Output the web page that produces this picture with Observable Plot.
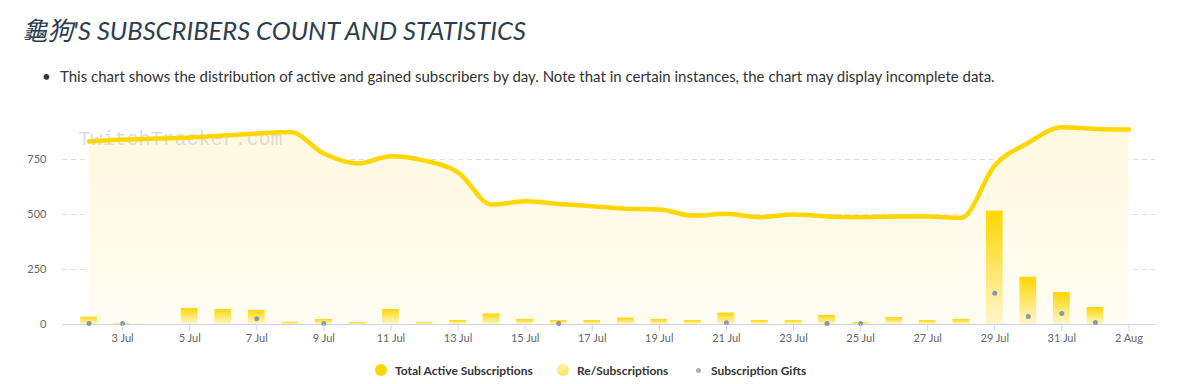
<!DOCTYPE html>
<html>
<head>
<meta charset="utf-8">
<script src="https://cdn.jsdelivr.net/npm/d3@7"></script>
<script src="https://cdn.jsdelivr.net/npm/@observablehq/plot@0.6"></script>
<style>
  body { margin: 0; background: #fff; font-family: Lato, "Noto Sans", sans-serif; width: 1183px; height: 384px; position: relative; overflow: hidden; }
  #title { position: absolute; left: 22px; top: 10px; font-size: 25.5px; font-style: italic; color: #2c3e50; font-family: Lato, "Noto Sans CJK TC", sans-serif; white-space: nowrap; }
  #note { position: absolute; left: 42px; top: 67px; font-size: 15px; color: #333; white-space: nowrap; }
  #note span.b { display: inline-block; width: 18px; }
  #chart { position: absolute; left: 0; top: 100px; }
  #legend { position: absolute; top: 362px; left: 0; width: 1183px; font-size: 12px; font-weight: bold; color: #333; }
  .li { position: absolute; white-space: nowrap; display: flex; align-items: center; }
  .sw { display: inline-block; border-radius: 50%; margin-right: 8px; }
</style>
</head>
<body>
<div id="title">龜狗'S SUBSCRIBERS COUNT AND STATISTICS</div>
<div id="note"><span class="b">•</span>This chart shows the distribution of active and gained subscribers by day. Note that in certain instances, the chart may display incomplete data.</div>
<div id="chart"></div>
<div id="legend"></div>
<script>
// Data
const startDay = [2023, 6, 2]; // 2 Jul
const totalActive = [832, 841, 845, 850, 859, 868, 875, 777, 732, 765, 745, 692, 545, 560, 548, 538, 526, 523, 495, 503, 488, 500, 491, 488, 491, 491, 485, 723, 826, 897, 889, 886];
const reSubs = [33, 2, 0, 73, 68, 64, 10, 23, 9, 68, 8, 18, 48, 23, 18, 18, 29, 23, 18, 52, 18, 18, 41, 9, 32, 18, 23, 515, 215, 145, 77];
const gifts = [5, 5, null, null, null, 26, null, 5, null, null, null, null, null, null, 5, null, null, null, null, 8, null, null, 5, 5, null, null, null, 142, 36, 50, 9];
const yTicks = [0, 250, 500, 750];
const legendLabels = ["Total Active Subscriptions", "Re/Subscriptions", "Subscription Gifts"];
const watermark = "TwitchTracker.com";

const day = i => new Date(Date.UTC(startDay[0], startDay[1], startDay[2] + i));
const lineData = totalActive.map((v, i) => ({date: day(i), value: v}));
const barData = reSubs.map((v, i) => ({date: day(i), value: v}));
const giftData = gifts.map((v, i) => ({date: day(i), value: v})).filter(d => d.value != null);

const xMin = d3.utcHour.offset(day(0), -19);
const xMax = d3.utcHour.offset(day(totalActive.length - 1), 19);
const xTicks = d3.utcDay.range(day(1), d3.utcDay.offset(day(totalActive.length - 1), 1), 1).filter((d, i) => i % 2 === 0);

const gold = "#FFD600";

const plot = Plot.plot({
  width: 1183,
  height: 250,
  marginLeft: 62,
  marginRight: 28,
  marginTop: 4,
  marginBottom: 26,
  style: {fontFamily: "Lato, sans-serif", fontSize: "11px", color: "#666", background: "transparent"},
  x: {type: "utc", domain: [xMin, xMax], label: null},
  y: {domain: [0, 1000], label: null},
  marks: [
    Plot.gridY(yTicks.filter(t => t > 0), {stroke: "#e0e0e0", strokeOpacity: 1, strokeDasharray: "5,4"}),
    Plot.areaY(lineData, {x: "date", y: "value", fill: "url(#areaGrad)", curve: "monotone-x"}),
    Plot.text([watermark], {frameAnchor: "top-left", dx: 16, dy: 34, fontFamily: "Liberation Mono, DejaVu Sans Mono, monospace", fontSize: 20, fill: "#d6d6d6", fillOpacity: 0.85, textAnchor: "start", lineAnchor: "middle"}),
    Plot.rectY(barData, {x1: d => d3.utcHour.offset(d.date, -6), x2: d => d3.utcHour.offset(d.date, 6), y: "value", fill: "url(#barGrad)"}),
    Plot.ruleY([0], {stroke: "#ccd6eb"}),
    Plot.lineY(lineData, {x: "date", y: "value", stroke: gold, strokeWidth: 4.5, curve: "monotone-x"}),
    Plot.dot(giftData, {x: "date", y: "value", r: 2.5, fill: "#869aab", stroke: "none"}),
    Plot.axisY({ticks: yTicks, tickSize: 0, tickPadding: 16, fill: "#666", fontSize: 11}),
    Plot.axisX({ticks: xTicks, tickFormat: d3.utcFormat("%-d %b"), tickSize: 7, tickPadding: 3, stroke: "#ccd6eb", fill: "#666", fontSize: 11})
  ]
});

// gradients
const svgSel = d3.select(plot);
const defs = svgSel.insert("defs", ":first-child");
const bg = defs.append("linearGradient").attr("id", "barGrad").attr("x1", 0).attr("y1", 0).attr("x2", 0).attr("y2", 1);
bg.append("stop").attr("offset", "0%").attr("stop-color", "#FFD600");
bg.append("stop").attr("offset", "100%").attr("stop-color", "#FFF6CE");
const ag = defs.append("linearGradient").attr("id", "areaGrad").attr("x1", 0).attr("y1", 0).attr("x2", 0).attr("y2", 1);
ag.append("stop").attr("offset", "0%").attr("stop-color", "#FFF9DF");
ag.append("stop").attr("offset", "100%").attr("stop-color", "#FFFDF4");

document.getElementById("chart").appendChild(plot);

// legend
const legend = document.getElementById("legend");
const legendItems = [
  {x: 375, size: 12, bg: gold},
  {x: 557, size: 12, bg: "radial-gradient(circle at 50% 30%, #FFF2A8, #FFE14D)"},
  {x: 695, size: 5, bg: "#9fb4c3"}
];
legendItems.forEach((it, i) => {
  const el = document.createElement("div");
  el.className = "li";
  el.style.left = it.x + "px";
  el.style.top = "0px";
  el.style.height = "16px";
  const sw = document.createElement("span");
  sw.className = "sw";
  sw.style.width = it.size + "px";
  sw.style.height = it.size + "px";
  sw.style.background = it.bg;
  if (it.size < 10) { sw.style.marginLeft = "1px"; sw.style.marginRight = "10px"; }
  el.appendChild(sw);
  const t = document.createElement("span");
  t.textContent = legendLabels[i];
  el.appendChild(t);
  legend.appendChild(el);
});
</script>
</body>
</html>
